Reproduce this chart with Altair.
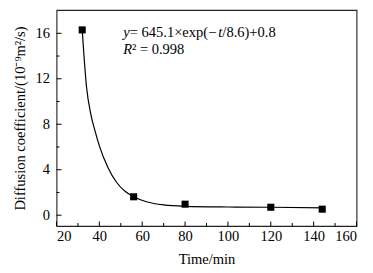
import altair as alt
import pandas as pd

# measured points
time_min = [32, 56, 80, 120, 144]
diff_coef = [16.3, 1.62, 0.97, 0.70, 0.53]

# fitted curve
curve_t = [32, 34, 36, 38, 40, 44, 48, 52, 56, 62, 70, 80, 100, 120, 145]
curve_y = [16.3, 11.3, 8.9, 7.4, 6.1, 4.2, 2.9, 2.1, 1.62, 1.18, 0.9, 0.78, 0.72, 0.70, 0.64]

x_major = [20, 40, 60, 80, 100, 120, 140, 160]
x_minor = [30, 50, 70, 90, 110, 130, 150]
y_major = [0, 4, 8, 12, 16]
y_minor = [2, 6, 10, 14]

ann_x = 51.2
ann_y1 = 15.7
ann_y2 = 14.15

W, H = 300, 216
FONT = "Liberation Serif"
FS = 14.5
NB = "\u00a0"

xs = alt.Scale(domain=[20, 160], nice=False, zero=False)
ys = alt.Scale(domain=[-0.95, 18.05], nice=False, zero=False)

pts = pd.DataFrame({"t": time_min, "d": diff_coef})
crv = pd.DataFrame({"t": curve_t, "d": curve_y})

base_x = alt.X("t:Q", scale=xs, axis=alt.Axis(
    values=x_major, ticks=False, domain=False, grid=False, labelPadding=3,
    title="Time/min", titlePadding=10, format="d"))
base_y = alt.Y("d:Q", scale=ys, axis=alt.Axis(
    values=y_major, ticks=False, domain=False, grid=False, labelPadding=7,
    title="Diffusion coefficient/(10⁻⁹m²/s)", titlePadding=8, format="d"))

curve = alt.Chart(crv).mark_line(interpolate="monotone", color="black", strokeWidth=1.2).encode(
    x=base_x, y=base_y)
points = alt.Chart(pts).mark_square(size=50, color="black", opacity=1).encode(
    x="t:Q", y="d:Q")

def xticks(vals, length):
    df = pd.DataFrame({"v": vals})
    return alt.Chart(df).mark_rule(color="black", strokeWidth=1).encode(
        x=alt.X("v:Q", scale=xs), y=alt.value(H), y2=alt.value(H - length))

def yticks(vals, length):
    df = pd.DataFrame({"v": vals})
    return alt.Chart(df).mark_rule(color="black", strokeWidth=1).encode(
        y=alt.Y("v:Q", scale=ys), x=alt.value(0), x2=alt.value(length))

def label(text, y, dx, italic=False, size=FS, dy=0):
    df = pd.DataFrame({"x": [ann_x], "y": [y], "s": [text]})
    return alt.Chart(df).mark_text(
        align="left", baseline="alphabetic", font=FONT, fontSize=size,
        fontStyle="italic" if italic else "normal", dx=dx, dy=dy, color="black"
    ).encode(x=alt.X("x:Q", scale=xs), y=alt.Y("y:Q", scale=ys), text="s:N")

texts = [
    label("y", ann_y1, 0, italic=True),
    label(NB + "=" + NB + "645.1×exp(−", ann_y1, 6.4),
    label("t", ann_y1, 94.8, italic=True),
    label("/8.6)+0.8", ann_y1, 99.0),
    label("R", ann_y2, 0, italic=True),
    label("²" + NB + "=" + NB + "0.998", ann_y2, 8.6),
]

chart = alt.layer(
    curve, points,
    xticks(x_major, 4.5), xticks(x_minor, 3),
    yticks(y_major, 5), yticks(y_minor, 3),
    *texts
).properties(
    width=W, height=H,
    autosize=alt.AutoSizeParams(type="none"),
    padding={"left": 48.5, "top": 2, "right": 8, "bottom": 45},
).configure_view(
    stroke="#222", strokeWidth=1.1
).configure_axis(
    labelFont=FONT, titleFont=FONT, labelFontSize=FS, titleFontSize=FS,
    labelColor="black", titleColor="black", titleFontWeight="normal",
)

chart.save("out.html", embed_options={"renderer": "svg", "actions": False})
